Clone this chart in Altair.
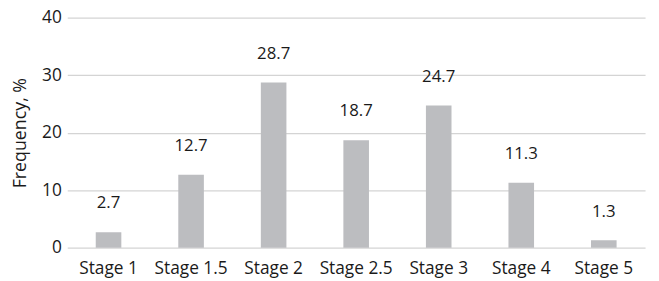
import altair as alt
import pandas as pd

stages = ["Stage 1", "Stage 1.5", "Stage 2", "Stage 2.5", "Stage 3", "Stage 4", "Stage 5"]
values = [2.7, 12.7, 28.7, 18.7, 24.7, 11.3, 1.3]
labels = ["2.7", "12.7", "28.7", "18.7", "24.7", "11.3", "1.3"]

df = pd.DataFrame({"stage": stages, "value": values, "label": labels})

FONT = "Open Sans"
TXT = "#1a1a1a"

x = alt.X("stage:N", sort=stages, title=None,
          scale=alt.Scale(paddingInner=0.69, paddingOuter=0.345),
          axis=alt.Axis(labelAngle=0, domain=False, ticks=False, labelPadding=12,
                        labelFontSize=17.5, labelFont=FONT, labelColor=TXT))
y = alt.Y("value:Q", title="Frequency, %",
          scale=alt.Scale(domain=[0, 40]),
          axis=alt.Axis(values=[0, 10, 20, 30, 40], domain=False, ticks=False,
                        labelPadding=6, labelFontSize=17.5, labelFont=FONT, labelColor=TXT,
                        titleFontSize=18, titleFont=FONT, titleFontWeight="normal",
                        titleColor=TXT, titlePadding=12,
                        gridColor="#d4d4d4", gridWidth=1.2))

bars = alt.Chart(df).mark_bar(color="#bcbdc0").encode(x=x, y=y)
text = alt.Chart(df).mark_text(baseline="middle", dy=-29, fontSize=17, font=FONT,
                               color=TXT).encode(
    x=alt.X("stage:N", sort=stages), y="value:Q", text="label:N")

chart = (bars + text).properties(
    width=585, height=233,
    autosize=alt.AutoSizeParams(type="none"),
    padding={"left": 60, "top": 8, "right": 6, "bottom": 33},
).configure_view(stroke=None)

chart.save("out.html", embed_options={"renderer": "svg", "actions": False})
